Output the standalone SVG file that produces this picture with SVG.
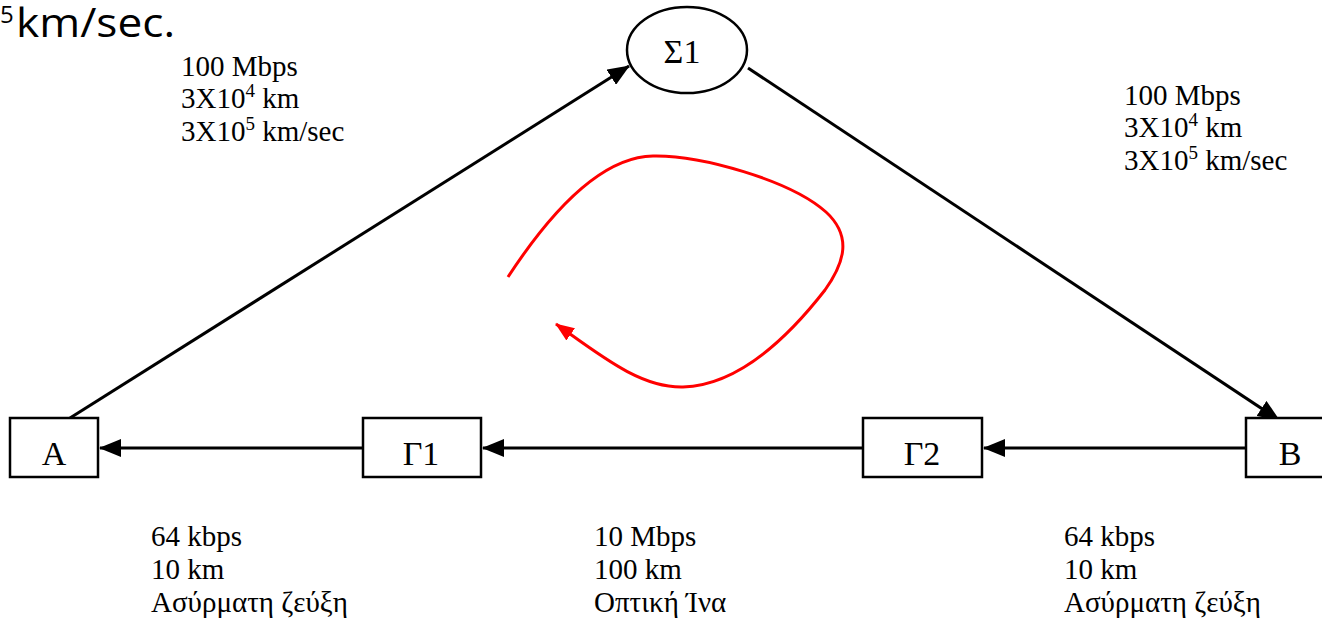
<svg xmlns="http://www.w3.org/2000/svg" width="1322" height="619" viewBox="0 0 1322 619">
<defs>
<style>
.lbl{font-family:"Liberation Serif","Times New Roman",serif;font-size:29px;fill:#000}
.nlbl{font-family:"Liberation Serif","Times New Roman",serif;font-size:34px;fill:#000;text-anchor:middle}
.box{fill:#fff;stroke:#000;stroke-width:2.5}
.conn{stroke:#000;stroke-width:3;fill:none}
.red{stroke:#ff0000;stroke-width:3;fill:none}
</style>
<marker id="ah" markerUnits="userSpaceOnUse" markerWidth="22" markerHeight="18" refX="21" refY="9" orient="auto">
<path d="M0,0 L22,9 L0,18 z" fill="#000"/>
</marker>
<marker id="rah" markerUnits="userSpaceOnUse" markerWidth="19" markerHeight="15" refX="18" refY="7.5" orient="auto">
<path d="M0,0 L19,7.5 L0,15 z" fill="#ff0000"/>
</marker>
</defs>
<rect width="1322" height="619" fill="#fff"/>
<text font-family="'Open Sans','Noto Sans',sans-serif" fill="#000"><tspan x="0" y="23" font-size="24">5</tspan><tspan x="16" y="37" font-size="40" textLength="159" lengthAdjust="spacingAndGlyphs">km/sec.</tspan></text>
<g id="connectors">
<path class="conn" d="M70,418 L629,66" marker-end="url(#ah)"/>
<path class="conn" d="M748,68 L1279,420" marker-end="url(#ah)"/>
<path class="conn" d="M363,448 L100,448" marker-end="url(#ah)"/>
<path class="conn" d="M863,448 L483,448" marker-end="url(#ah)"/>
<path class="conn" d="M1246,448 L984,448" marker-end="url(#ah)"/>
<path class="red" d="M508,277 C542,225 596,157 653,156 C700,155 790,180 826,212 C852,236 845,262 825,290 C790,335 740,385 683,387 C640,388 600,355 556,324" marker-end="url(#rah)"/>
</g>
<g id="S1">
<ellipse cx="687" cy="50" rx="60" ry="43" fill="#fff" stroke="#000" stroke-width="2.5"/>
<text class="nlbl" x="682" y="63">Σ1</text>
</g>
<g id="A">
<rect class="box" x="10" y="418" width="88" height="59"/>
<text class="nlbl" x="54" y="465">A</text>
</g>
<g id="G1">
<rect class="box" x="363" y="418" width="118" height="59"/>
<text class="nlbl" x="421" y="465">Γ1</text>
</g>
<g id="G2">
<rect class="box" x="863" y="418" width="119" height="59"/>
<text class="nlbl" x="922" y="465">Γ2</text>
</g>
<g id="B">
<rect class="box" x="1246" y="418" width="120" height="59"/>
<text class="nlbl" x="1290" y="465">B</text>
</g>
<g id="labels">
<text class="lbl" x="181" y="76">100 Mbps</text>
<text class="lbl" x="181" y="108">3X10<tspan font-size="19" dy="-11">4</tspan><tspan dy="11"> km</tspan></text>
<text class="lbl" x="181" y="141">3X10<tspan font-size="19" dy="-11">5</tspan><tspan dy="11"> km/sec</tspan></text>
<text class="lbl" x="1124" y="105">100 Mbps</text>
<text class="lbl" x="1124" y="137">3X10<tspan font-size="19" dy="-11">4</tspan><tspan dy="11"> km</tspan></text>
<text class="lbl" x="1124" y="170">3X10<tspan font-size="19" dy="-11">5</tspan><tspan dy="11"> km/sec</tspan></text>
<text class="lbl" x="151" y="546">64 kbps</text>
<text class="lbl" x="151" y="579">10 km</text>
<text class="lbl" x="151" y="612">Ασύρματη ζεύξη</text>
<text class="lbl" x="594" y="546">10 Mbps</text>
<text class="lbl" x="594" y="579">100 km</text>
<text class="lbl" x="594" y="612">Οπτική Ίνα</text>
<text class="lbl" x="1064" y="546">64 kbps</text>
<text class="lbl" x="1064" y="579">10 km</text>
<text class="lbl" x="1064" y="612">Ασύρματη ζεύξη</text>
</g>
</svg>
